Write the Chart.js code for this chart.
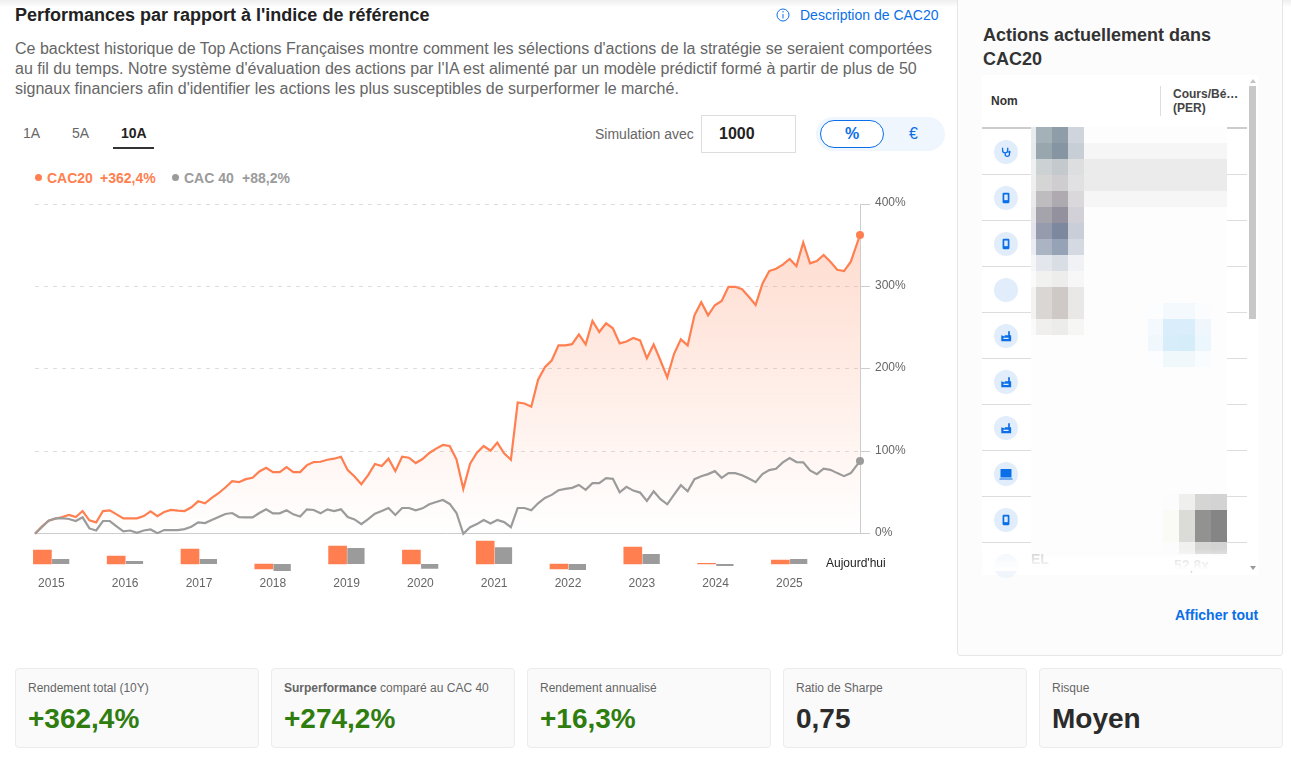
<!DOCTYPE html>
<html lang="fr">
<head>
<meta charset="utf-8">
<title>Performances par rapport à l'indice de référence</title>
<script src="https://cdn.jsdelivr.net/npm/chart.js@4"></script>
<style>
  * { box-sizing: border-box; }
  html, body { margin: 0; padding: 0; width: 1291px; height: 760px; overflow: hidden; background: #fff; }
  body { font-family: "Liberation Sans", Arial, sans-serif; color: #333; position: relative; }
  .abs { position: absolute; white-space: nowrap; }
  #ombre { left: 0; top: 0; width: 1291px; height: 7px; background: linear-gradient(#eeeeee, #ffffff); }
  #titre { left: 15px; top: 4px; font-size: 18px; line-height: 22px; font-weight: bold; color: #222; }
  #lien { left: 800px; top: 7px; font-size: 14px; line-height: 16px; color: #0a6fe8; }
  #desc { left: 15px; top: 39px; font-size: 16px; line-height: 20px; color: #666; }
  .onglet { top: 125px; font-size: 14px; line-height: 16px; color: #666; }
  #souligne { left: 113px; top: 147px; width: 41px; height: 2px; background: #333; }
  #simu { left: 595px; top: 126px; font-size: 14px; line-height: 16px; color: #666; }
  #champ { left: 701px; top: 115px; width: 95px; height: 38px; border: 1px solid #ddd; font-size: 16px; font-weight: bold; line-height: 36px; padding-left: 17px; color: #222; }
  #bascule { left: 816px; top: 117px; width: 129px; height: 34px; border-radius: 17px; background: #eff6fe; }
  #pill { left: 820px; top: 120px; width: 64px; height: 28px; border-radius: 14px; background: #fff; border: 1px solid #0a6fe8; text-align: center; line-height: 26px; font-size: 16px; font-weight: bold; color: #0a6fe8; }
  #euro { left: 909px; top: 125px; font-size: 16px; line-height: 18px; color: #0a6fe8; }
  .point { width: 7px; height: 7px; border-radius: 50%; top: 174px; }
  .leg { top: 170px; font-size: 14px; line-height: 16px; font-weight: bold; }
  #auj { left: 826px; top: 556px; font-size: 12px; line-height: 14px; color: #222; }
  #panneau { left: 957px; top: -4px; width: 326px; height: 660px; background: #fcfcfc; border: 1px solid #e6e6e6; border-radius: 3px; }
  #panTitre { left: 983px; top: 23px; font-size: 18px; line-height: 24px; font-weight: bold; color: #333; }
  #liste { left: 982px; top: 75px; width: 276px; height: 500px; background: #fff; }
  .ligne { left: 982px; width: 265px; height: 1px; background: #ddd; }
  .rond { left: 994px; width: 24px; height: 24px; border-radius: 50%; background: #e1edfa; display: flex; align-items: center; justify-content: center; }
  #masque { left: 1031px; top: 127px; width: 196px; height: 430px; background: #fdfdfd; }
  .case { position: absolute; }
  #fondu { left: 982px; top: 548px; width: 266px; height: 23px; background: linear-gradient(rgba(255,255,255,0), #fff 95%); }
  #ascenseur { left: 1249px; top: 86px; width: 7px; height: 233px; background: #c8c8c8; }
  #afficher { left: 1175px; top: 607px; font-size: 14px; line-height: 16px; font-weight: bold; color: #0a6fe8; }
  .carte { top: 668px; width: 244px; height: 80px; background: #fafafa; border: 1px solid #ececec; border-radius: 4px; }
  .carte .lib { position: absolute; left: 12px; top: 12px; font-size: 12px; line-height: 14px; color: #666; white-space: nowrap; }
  .carte .val { position: absolute; left: 12px; top: 33px; font-size: 28px; line-height: 34px; font-weight: bold; white-space: nowrap; }
  canvas { position: absolute; display: block; }
</style>
</head>
<body>
<div class="abs" id="ombre"></div>

<div class="abs" id="titre">Performances par rapport à l'indice de référence</div>
<svg class="abs" style="left:776px;top:8px" width="14" height="14" viewBox="0 0 14 14" fill="none" stroke="#0a6fe8"><circle cx="7" cy="7" r="6"/><path d="M7 6v4.5M7 3v1.5"/></svg>
<div class="abs" id="lien">Description de CAC20</div>
<div class="abs" id="desc">Ce backtest historique de Top Actions Françaises montre comment les sélections d'actions de la stratégie se seraient comportées<br>au fil du temps. Notre système d'évaluation des actions par l'IA est alimenté par un modèle prédictif formé à partir de plus de 50<br>signaux financiers afin d'identifier les actions les plus susceptibles de surperformer le marché.</div>

<div class="abs onglet" style="left:23px">1A</div>
<div class="abs onglet" style="left:72px">5A</div>
<div class="abs onglet" style="left:121px;font-weight:bold;color:#222">10A</div>
<div class="abs" id="souligne"></div>
<div class="abs" id="simu">Simulation avec</div>
<div class="abs" id="champ">1000</div>
<div class="abs" id="bascule"></div>
<div class="abs" id="pill">%</div>
<div class="abs" id="euro">€</div>

<div class="abs point" style="left:35px;background:#ff7f50"></div>
<div class="abs leg" style="left:47px;color:#ff7f50">CAC20</div>
<div class="abs leg" style="left:100px;color:#ff7f50">+362,4%</div>
<div class="abs point" style="left:172px;background:#9b9b9b"></div>
<div class="abs leg" style="left:184px;color:#9b9b9b">CAC 40</div>
<div class="abs leg" style="left:242px;color:#9b9b9b">+88,2%</div>

<canvas id="graphique" width="895" height="356" style="left:25px;top:190px"></canvas>
<canvas id="annees" width="830" height="56" style="left:0;top:540px"></canvas>
<div class="abs" id="auj">Aujourd'hui</div>

<div class="abs" id="panneau"></div>
<div class="abs" id="panTitre">Actions actuellement dans<br>CAC20</div>
<div class="abs" id="liste"></div>
<div class="abs" style="left:991px;top:94px;font-size:12px;line-height:14px;font-weight:bold;color:#333">Nom</div>
<div class="abs" style="left:1160px;top:86px;width:1px;height:30px;background:#ddd"></div>
<div class="abs" style="left:1173px;top:87px;font-size:12px;line-height:14px;font-weight:bold;color:#444">Cours/Bé…<br>(PER)</div>
<div class="abs" style="left:982px;top:127px;width:265px;height:2px;background:#ccc"></div>
<div id="lignes"></div>
<div class="abs" id="masque"></div>
<div id="flous"></div>
<div class="abs" style="left:1031px;top:551px;font-size:14px;line-height:16px;font-weight:bold;color:#c9c9c9">EL</div>
<div class="abs" style="left:1174px;top:557px;font-size:14px;line-height:16px;font-weight:bold;color:#c9c9c9">52,8x</div>
<div class="abs" id="fondu"></div>
<div class="abs" style="left:1250px;top:79px;border:3px solid transparent;border-top:0;border-bottom:4px solid #c4c4c4"></div>
<div class="abs" id="ascenseur"></div>
<div class="abs" style="left:1250px;top:566px;border:3px solid transparent;border-bottom:0;border-top:4px solid #9a9a9a"></div>
<div class="abs" id="afficher">Afficher tout</div>

<div class="abs carte" style="left:15px"><div class="lib">Rendement total (10Y)</div><div class="val" style="color:#2e7d0e">+362,4%</div></div>
<div class="abs carte" style="left:271px"><div class="lib"><b>Surperformance</b> comparé au CAC 40</div><div class="val" style="color:#2e7d0e">+274,2%</div></div>
<div class="abs carte" style="left:527px"><div class="lib">Rendement annualisé</div><div class="val" style="color:#2e7d0e">+16,3%</div></div>
<div class="abs carte" style="left:783px"><div class="lib">Ratio de Sharpe</div><div class="val" style="color:#2b2b2b">0,75</div></div>
<div class="abs carte" style="left:1039px"><div class="lib">Risque</div><div class="val" style="color:#2b2b2b">Moyen</div></div>

<script>
// Performance cumulée en %, un point par mois
const cac20 = [0, 8.9, 15.9, 18.3, 20.3, 22.8, 20.3, 27.6, 16.3, 13.8, 27.6, 28.5, 23.6, 18.7, 18.7, 18.7, 21.5, 27.2, 21.5, 26.4,
  28.9, 28, 27.6, 32.1, 39.4, 37, 43.5, 49.2, 56.1, 63.8, 62.6, 66.3, 67.9, 75.6, 80.1, 74.8, 74.8, 80.9, 74.8, 74.8,
  83.3, 87, 87.4, 89.8, 91.1, 93.5, 77.2, 69.5, 60.2, 71.1, 84.6, 82.1, 91.1, 76, 93.5, 92.3, 85.8, 90.7, 98, 103.3,
  107.7, 106.5, 90.2, 54.5, 85, 98.4, 106.5, 100.8, 110.6, 97.6, 89.8, 159.3, 158.1, 154.1, 187, 202, 210.2, 228.5, 228.5, 230,
  241.9, 229.7, 258.1, 244.7, 255.3, 249.2, 230.9, 233.3, 237.4, 234.6, 213, 229.7, 210.2, 189.8, 218.3, 235.8, 228.5, 265, 280.9, 265,
  277.2, 282.5, 299.6, 299.6, 296.7, 287.4, 277.6, 303.3, 318.7, 321.5, 326.4, 333.3, 324.8, 353.3, 328, 330.9, 338.2, 330, 320.3, 318.7,
  330, 362.4];
const cac40 = [0, 8, 16, 18.7, 19, 18, 15.5, 20, 6.5, 4, 15.5, 15.5, 9, 3, 4, 1.2, 4, 5.3, 0.8, 4.5,
  4.5, 4.5, 5.7, 8.5, 13.8, 13, 16.7, 20.3, 24, 25.2, 20.3, 20, 20, 25.2, 29.7, 24.8, 24.8, 28.5, 23.6, 21,
  29.7, 28.9, 24.8, 29.7, 27.6, 29.7, 20.3, 17.5, 11.8, 17.9, 24.4, 27.6, 31.3, 22.8, 31.3, 31.3, 28.5, 30.9, 35.8, 38.6,
  41, 36.2, 25.2, 0, 8, 11.8, 16.7, 12.6, 16.7, 14.2, 8.1, 31.3, 31.3, 28.5, 37, 43.5, 47.2, 52.8, 54.5, 55.7,
  59.3, 53.3, 61.4, 61.4, 67.5, 66.7, 50.4, 56.9, 52.4, 50, 39.8, 51.6, 41.9, 35.8, 47.6, 58.9, 51.6, 66.3, 69.9, 72.4,
  76, 67.9, 73.6, 73.6, 71.1, 67, 62.6, 72.4, 77.2, 78.9, 86.6, 91.9, 87, 86.6, 76.8, 72.4, 78.9, 77.6, 73.6, 69.9,
  73.6, 88.2];
// Le dernier point (aujourd'hui) tombe un peu après le dernier mois complet
const dernierMois = 121.35;
const mois = cac20.map((v, i) => i === cac20.length - 1 ? dernierMois : i);
const yTicks = [0, 100, 200, 300, 400];

// Rendement par année civile, en %
const annees = ["2015", "2016", "2017", "2018", "2019", "2020", "2021", "2022", "2023", "2024", "2025"];
const annuelCac20 = [23, 13, 25, -8, 30, 23, 38, -8, 28, 1, 6.6];
const annuelCac40 = [8.3, 5, 8.3, -11.5, 26.5, -8, 28, -10, 16.5, -3.3, 8.3];

const ORANGE = "#ff7f50";
const GRIS = "#9b9b9b";
const POLICE = '"Liberation Sans", Arial, sans-serif';

function enPoints(valeurs) {
  return valeurs.map((v, i) => ({ x: mois[i], y: v }));
}

function rayonDernier(ctx) {
  return ctx.dataIndex === cac20.length - 1 ? 4 : 0;
}

function degrade(ctx) {
  const zone = ctx.chart.chartArea;
  if (!zone) return "rgba(255,127,80,0.15)";
  const g = ctx.chart.ctx.createLinearGradient(0, zone.top, 0, zone.bottom);
  g.addColorStop(0, "rgba(255,127,80,0.30)");
  g.addColorStop(1, "rgba(255,127,80,0)");
  return g;
}

new Chart(document.getElementById("graphique"), {
  type: "line",
  data: {
    datasets: [
      {
        label: "CAC 40",
        data: enPoints(cac40),
        borderColor: GRIS,
        backgroundColor: GRIS,
        borderWidth: 2.2,
        pointRadius: rayonDernier,
        pointBackgroundColor: GRIS,
        pointBorderWidth: 0,
        tension: 0,
        clip: false,
        order: 0
      },
      {
        label: "CAC20",
        data: enPoints(cac20),
        borderColor: ORANGE,
        backgroundColor: degrade,
        fill: "origin",
        borderWidth: 2.2,
        pointRadius: rayonDernier,
        pointBackgroundColor: ORANGE,
        pointBorderWidth: 0,
        tension: 0,
        clip: false,
        order: 1
      }
    ]
  },
  options: {
    responsive: false,
    animation: false,
    layout: { padding: { left: 10, right: 0, top: 14, bottom: 8.2 } },
    plugins: { legend: { display: false }, tooltip: { enabled: false } },
    scales: {
      x: { type: "linear", min: 0, max: dernierMois, display: false },
      y: {
        position: "right",
        min: 0,
        max: 400,
        afterBuildTicks: (axe) => { axe.ticks = yTicks.map((v) => ({ value: v })); },
        afterFit: (axe) => { axe.width = 60; },
        ticks: {
          color: "#666",
          padding: 5,
          labelOffset: -1,
          font: { family: POLICE, size: 12 },
          callback: (v) => v + "%"
        },
        grid: {
          color: (ctx) => ctx.tick && ctx.tick.value === 0 ? "#cccccc" : "#dddddd",
          tickColor: "#cccccc",
          tickLength: 10,
          tickBorderDash: [],
          lineWidth: 1
        },
        border: {
          color: "#cccccc",
          dash: (ctx) => ctx.tick && ctx.tick.value === 0 ? [] : [4, 5]
        }
      }
    }
  }
});

new Chart(document.getElementById("annees"), {
  type: "bar",
  data: {
    labels: annees,
    datasets: [
      { label: "CAC20", data: annuelCac20, backgroundColor: ORANGE, barThickness: 18 },
      { label: "CAC 40", data: annuelCac40, backgroundColor: GRIS, barThickness: 18, borderColor: "#ffffff", borderWidth: { left: 1 } }
    ]
  },
  options: {
    responsive: false,
    animation: false,
    layout: { padding: { left: 14.5, right: 3.7, top: 0, bottom: 0 } },
    plugins: { legend: { display: false }, tooltip: { enabled: false } },
    scales: {
      x: {
        grid: { display: false, drawTicks: false },
        border: { display: false },
        afterFit: (axe) => { axe.height = 20; },
        ticks: { color: "#666", padding: 0, autoSkip: false, maxRotation: 0, font: { family: POLICE, size: 12 } }
      },
      y: { display: false, min: -20, max: 40 }
    }
  }
});

// Panneau de droite : lignes du tableau, pastilles, zones floutées
const icones = {
  stetho: '<path d="M3 2v3a3 3 0 0 0 6 0V2M6 8v1.5a2.5 2.5 0 0 0 5 0V8" fill="none" stroke="#0a6fe8" stroke-width="1.5"/><circle cx="11" cy="7" r="1.4" fill="#0a6fe8"/>',
  tel: '<rect x="3" y="1" width="8" height="12" rx="1.3" fill="#0a6fe8"/><rect x="5" y="3" width="4" height="6.5" fill="#e1edfa"/>',
  usine: '<path d="M1.5 13V6l4 1.5V6h4V1.5h2V6h1.5v7z" fill="#0a6fe8"/><rect x="4" y="9" width="6" height="1.5" fill="#e1edfa"/>',
  portable: '<rect x="1.5" y="2" width="11" height="8.5" rx=".6" fill="#0a6fe8"/><rect x=".5" y="11.5" width="13" height="1" fill="#0a6fe8"/>'
};
const lignesTableau = [174, 220, 266, 312, 358, 404, 450, 496, 542];
const pastilles = [["stetho", 140], ["tel", 186], ["tel", 232], [null, 278], ["usine", 324], ["usine", 370], ["usine", 416], ["portable", 462], ["tel", 508], [null, 554]];

let html = "";
lignesTableau.forEach((y) => { html += `<div class="abs ligne" style="top:${y}px"></div>`; });
pastilles.forEach(([nom, y], i) => {
  const taille = nom === "portable" ? 14 : 12;
  const dessin = nom ? `<svg width="${taille}" height="${taille}" viewBox="0 0 14 14">${icones[nom]}</svg>` : "";
  html += `<div class="abs rond" style="top:${y}px${i === 9 ? ";opacity:.5" : ""}">${dessin}</div>`;
});
document.getElementById("lignes").innerHTML = html;

function blocs(x0, largeurs, rangees) {
  let s = "";
  rangees.forEach(([y, h, couleurs]) => {
    let x = x0;
    couleurs.forEach((c, i) => {
      s += `<div class="case" style="left:${x}px;top:${y}px;width:${largeurs[i]}px;height:${h}px;background:#${c}"></div>`;
      x += largeurs[i];
    });
  });
  return s;
}

const bande = [[143, 16, ["f6f6f6"]], [159, 32, ["ebebeb"]], [191, 16, ["f6f6f6"]]];
const flouNoms = [
  [127, 16, ["e8ecef", "a5b1b8", "8e9da8", "d0d5dd"]],
  [143, 16, ["e6eaec", "98a6ae", "8596a2", "c8ced6"]],
  [159, 16, ["eef0f1", "ccd1d4", "c3c9cd", "dddee0"]],
  [175, 16, ["efefef", "d5d5d6", "cfcdcf", "e1e0e2"]],
  [191, 16, ["ebebec", "bfbcc0", "aeaab0", "dad8db"]],
  [207, 16, ["e6e6e9", "a5a4ac", "93919d", "d2d1d8"]],
  [223, 16, ["e2e4ea", "969cae", "7d879e", "c9ced8"]],
  [239, 16, ["e9ecf0", "aab4c3", "96a2b6", "d4d9e2"]],
  [255, 16, ["f5f6f8", "e3e6ec", "d9dde4", "f1f2f5"]],
  [271, 16, ["fafafa", "f1f1f0", "ededec", "f7f7f7"]],
  [287, 32, ["f3f2f1", "d9d6d3", "cec9c6", "e9e8e6"]],
  [319, 16, ["fafafa", "f0efee", "ececea", "f6f6f5"]]
];
const flouBleu = [
  [303, 16, ["fcfdfe", "f3f9fd", "f3f9fd", "fafcfe"]],
  [319, 16, ["f3f9fd", "d9eefa", "d9eefa", "eff7fd"]],
  [335, 16, ["f0f8fd", "d7edf9", "d5ecf9", "ecf6fd"]],
  [351, 16, ["fbfdfe", "f1f8fc", "f1f8fc", "f9fcfe"]]
];
const flouGris = [
  [494, 16, ["fcfcfc", "efefed", "d5d5d4", "d3d3d3"]],
  [510, 32, ["fbfbf5", "dbdcd8", "929291", "858585"]],
  [542, 12, ["fcfcfc", "f1f1f0", "d6d6d5", "d3d3d3"]]
];
document.getElementById("flous").innerHTML =
  blocs(1084, [143], bande) +
  blocs(1031, [5, 16, 16, 16], flouNoms) +
  blocs(1148, [15, 16, 16, 16], flouBleu) +
  blocs(1163, [16, 16, 16, 16], flouGris);
</script>
</body>
</html>
